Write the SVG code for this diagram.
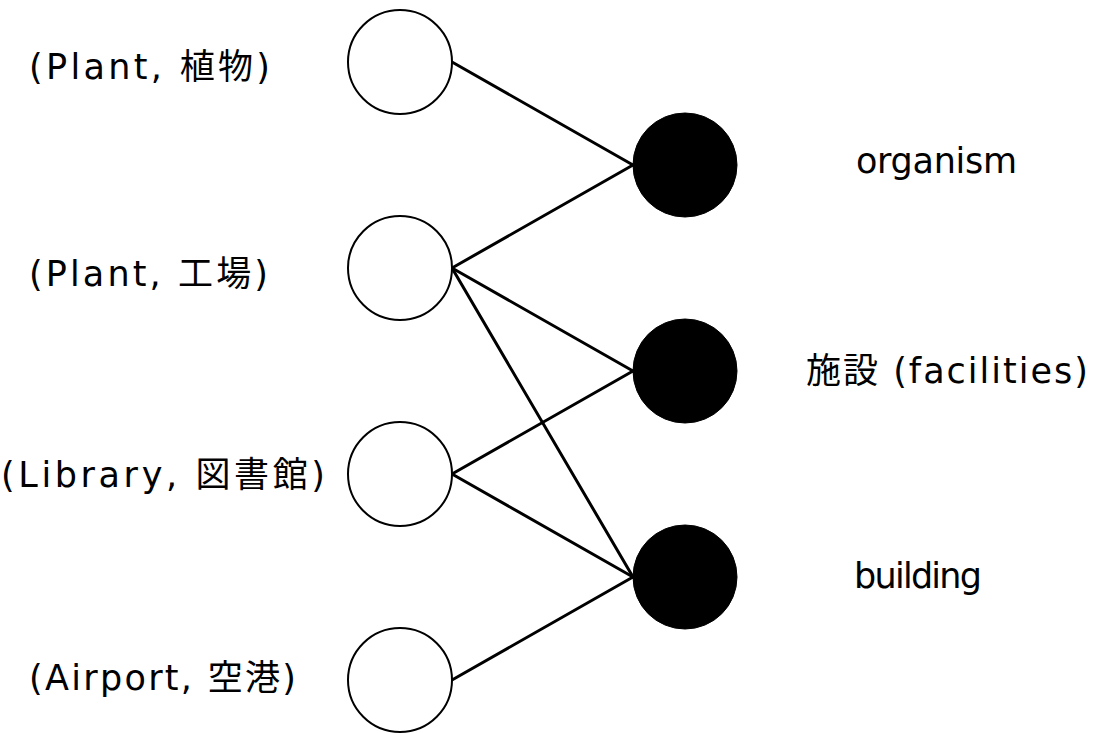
<svg xmlns="http://www.w3.org/2000/svg" width="1095" height="733" viewBox="0 0 1095 733">
<style>
.w{fill:#fff;stroke:#000;stroke-width:2}
.b{fill:#000;stroke:#000;stroke-width:1}
.e{stroke:#000;stroke-width:3;fill:none;stroke-linecap:round}
.t{font-family:"DejaVu Sans","Noto Sans CJK JP",sans-serif;font-size:35px;fill:#000}
</style>
<rect width="1095" height="733" fill="#fff"/>
<g id="connectors">
<line class="e" x1="452" y1="62" x2="633" y2="165"/>
<line class="e" x1="452" y1="268" x2="633" y2="165"/>
<line class="e" x1="452" y1="268" x2="633" y2="371"/>
<line class="e" x1="452" y1="268" x2="633" y2="577"/>
<line class="e" x1="452" y1="474" x2="633" y2="371"/>
<line class="e" x1="452" y1="474" x2="633" y2="577"/>
<line class="e" x1="452" y1="680" x2="633" y2="577"/>
</g>
<g id="w1"><circle class="w" cx="400" cy="62" r="52"/><text class="t" x="29" y="79" textLength="241">(Plant, 植物)</text></g>
<g id="w2"><circle class="w" cx="400" cy="268" r="52"/><text class="t" x="29" y="286" textLength="239">(Plant, 工場)</text></g>
<g id="w3"><circle class="w" cx="400" cy="474" r="52"/><text class="t" x="1" y="487" textLength="324">(Library, 図書館)</text></g>
<g id="w4"><circle class="w" cx="400" cy="680" r="52"/><text class="t" x="29" y="690" textLength="267">(Airport, 空港)</text></g>
<g id="b1"><circle class="b" cx="685" cy="165" r="52"/><text class="t" x="856" y="173" textLength="161">organism</text></g>
<g id="b2"><circle class="b" cx="685" cy="371" r="52"/><text class="t" x="806" y="383" textLength="282">施設 (facilities)</text></g>
<g id="b3"><circle class="b" cx="685" cy="577" r="52"/><text class="t" x="854" y="588" textLength="128">building</text></g>
</svg>
